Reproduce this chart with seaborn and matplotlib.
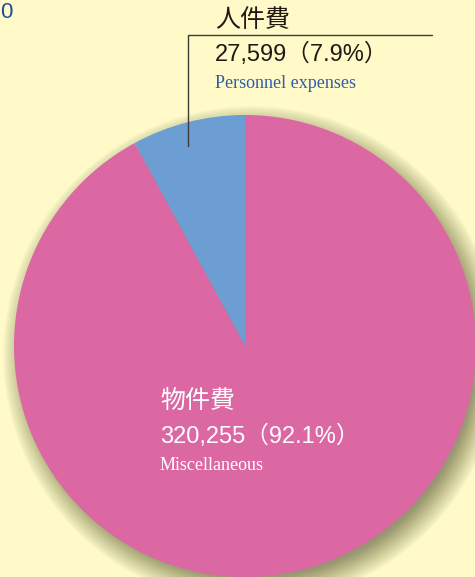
import matplotlib
matplotlib.use("Agg")
import matplotlib.pyplot as plt
import matplotlib.patches as mpatches
import seaborn as sns

# データ（単位：千円）
labels_jp = ["人件費", "物件費"]
labels_en = ["Personnel expenses", "Miscellaneous"]
amounts = [27599, 320255]
shares = [7.9, 92.1]
colors = ["#6C9ED3", "#DC68A3"]

sns.set_theme(style="white")
plt.rcParams["font.family"] = ["Noto Sans CJK JP", "DejaVu Sans"]
num_font = ["Liberation Sans", "Noto Sans CJK JP"]

bg = "#FFFAC8"
W, H = 475, 577
fig = plt.figure(figsize=(W / 100, H / 100), dpi=100, facecolor=bg)
ax = fig.add_axes([0, 0, 1, 1])
ax.set_facecolor(bg)

cx, cy, r = 245, H - 346, 231

# ぼかし影（右下にずらす）
n = 60
for i in range(n):
    rr = r + 18 - i * 32 / n
    ax.add_patch(mpatches.Circle((cx + 7, cy - 9), rr, color="#4a4a30",
                                 alpha=0.011, lw=0, zorder=1))

ax.pie(amounts, colors=colors, startangle=90, counterclock=True,
       center=(cx, cy), radius=r, frame=True,
       wedgeprops=dict(linewidth=0, zorder=2))
ax.set_xlim(0, W)
ax.set_ylim(0, H)
ax.set_aspect("equal")
ax.axis("off")

dark = "#231815"
blue_txt = "#2E5DA8"

# 引き出し線
ax.plot([188, 188, 432], [H - 146, H - 35, H - 35], color="#3a3a3a", lw=1.0, zorder=3)

ax.text(215, H - 20, labels_jp[0], fontsize=18, color=dark, va="center", ha="left")
ax.text(215, H - 54, f"{amounts[0]:,}（{shares[0]}%）", fontsize=17, color=dark,
        va="center", ha="left", family=num_font)
ax.text(215, H - 84, labels_en[0], fontsize=13, color=blue_txt, va="center",
        ha="left", family="Liberation Serif")

ax.text(160, H - 401, labels_jp[1], fontsize=18, color="white", va="center", ha="left")
ax.text(160, H - 436, f"{amounts[1]:,}（{shares[1]}%）", fontsize=17, color="white",
        va="center", ha="left", family=num_font)
ax.text(160, H - 466, labels_en[1], fontsize=13, color="white", va="center",
        ha="left", family="Liberation Serif")

ax.text(0, H - 13, "0", fontsize=16, color="#1F4E9C", va="center", ha="left",
        family=num_font)

fig.savefig("out.png", dpi=100, facecolor=bg)
